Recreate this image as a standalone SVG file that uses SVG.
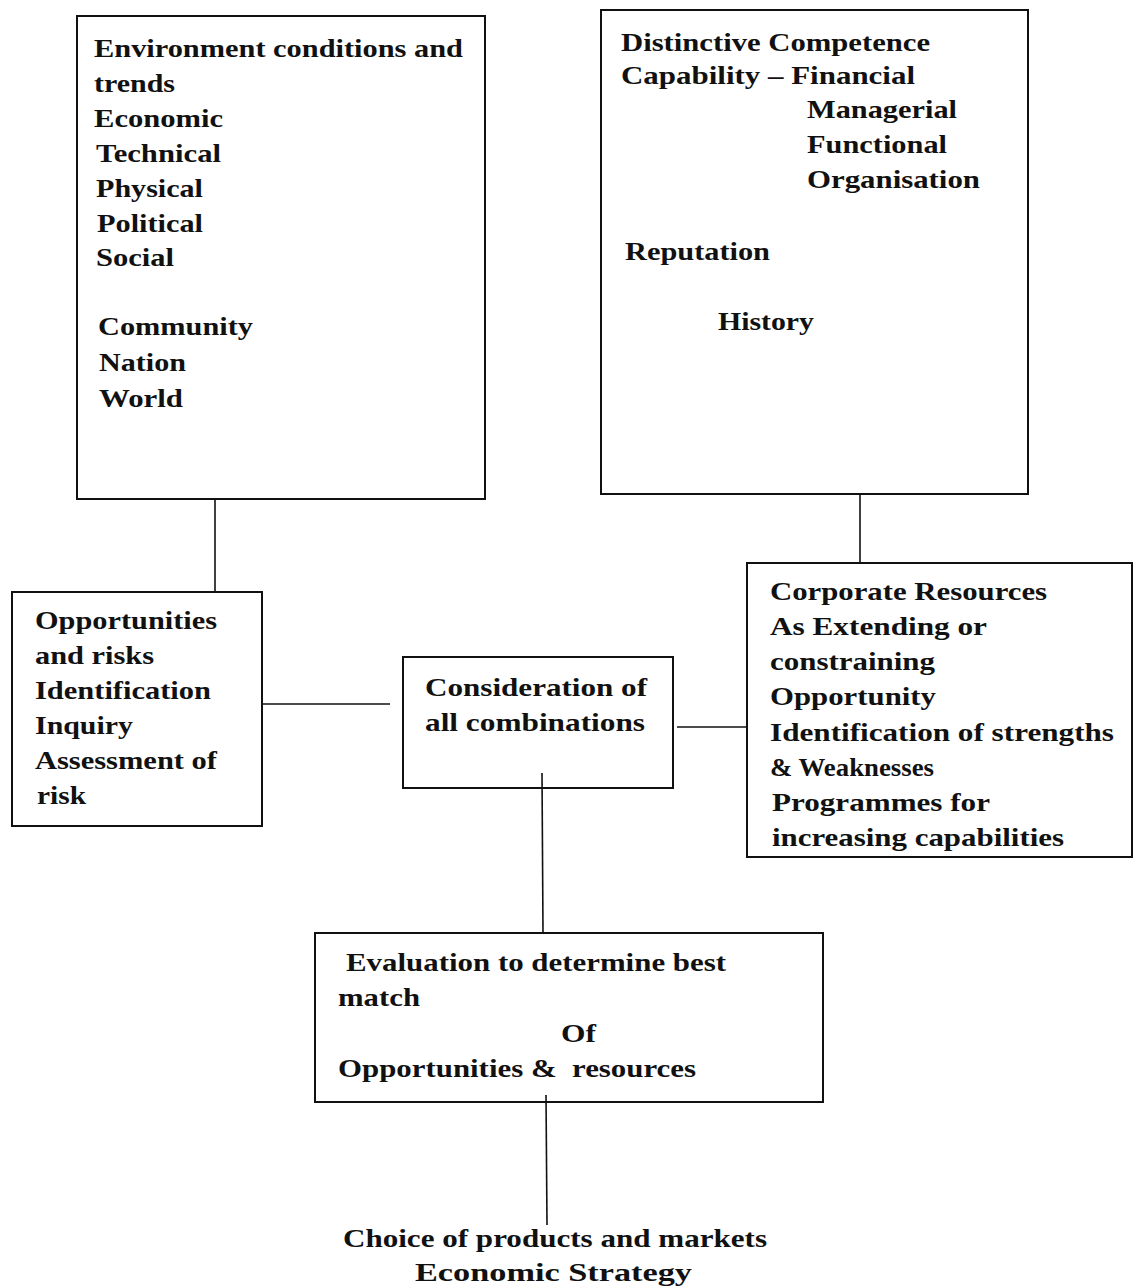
<svg xmlns="http://www.w3.org/2000/svg" width="1134" height="1288" viewBox="0 0 1134 1288">
<style>
.box{fill:none;stroke:#111;stroke-width:2}
.con{stroke:#111;stroke-width:1.6;fill:none}
text{font-family:"Liberation Serif","Times New Roman",serif;font-weight:bold;font-size:25px;fill:#111}
</style>
<rect width="1134" height="1288" fill="#fff"/>
<g id="connectors">
<line class="con" x1="215" y1="500" x2="215" y2="592"/>
<line class="con" x1="860" y1="494" x2="860" y2="563"/>
<line class="con" x1="262" y1="704" x2="390" y2="704"/>
<line class="con" x1="677" y1="727" x2="747" y2="727"/>
<line class="con" x1="542" y1="773" x2="543" y2="933"/>
<line class="con" x1="546" y1="1095" x2="547" y2="1225"/>
</g>
<g id="environment">
<rect class="box" x="77" y="16" width="408" height="483"/>
<text x="94" y="57" textLength="369" lengthAdjust="spacingAndGlyphs">Environment conditions and</text>
<text x="94" y="92" textLength="81" lengthAdjust="spacingAndGlyphs">trends</text>
<text x="94" y="127" textLength="129" lengthAdjust="spacingAndGlyphs">Economic</text>
<text x="96" y="162" textLength="125" lengthAdjust="spacingAndGlyphs">Technical</text>
<text x="96" y="197" textLength="107" lengthAdjust="spacingAndGlyphs">Physical</text>
<text x="97" y="232" textLength="106" lengthAdjust="spacingAndGlyphs">Political</text>
<text x="96" y="266" textLength="78" lengthAdjust="spacingAndGlyphs">Social</text>
<text x="98" y="335" textLength="155" lengthAdjust="spacingAndGlyphs">Community</text>
<text x="99" y="371" textLength="87" lengthAdjust="spacingAndGlyphs">Nation</text>
<text x="99" y="407" textLength="84" lengthAdjust="spacingAndGlyphs">World</text>
</g>
<g id="competence">
<rect class="box" x="601" y="10" width="427" height="484"/>
<text x="621" y="51" textLength="309" lengthAdjust="spacingAndGlyphs">Distinctive Competence</text>
<text x="621" y="84" textLength="294" lengthAdjust="spacingAndGlyphs">Capability – Financial</text>
<text x="807" y="118" textLength="150" lengthAdjust="spacingAndGlyphs">Managerial</text>
<text x="807" y="153" textLength="140" lengthAdjust="spacingAndGlyphs">Functional</text>
<text x="807" y="188" textLength="173" lengthAdjust="spacingAndGlyphs">Organisation</text>
<text x="625" y="260" textLength="145" lengthAdjust="spacingAndGlyphs">Reputation</text>
<text x="718" y="330" textLength="96" lengthAdjust="spacingAndGlyphs">History</text>
</g>
<g id="opportunities">
<rect class="box" x="12" y="592" width="250" height="234"/>
<text x="35" y="629" textLength="182" lengthAdjust="spacingAndGlyphs">Opportunities</text>
<text x="35" y="664" textLength="119" lengthAdjust="spacingAndGlyphs">and risks</text>
<text x="35" y="699" textLength="176" lengthAdjust="spacingAndGlyphs">Identification</text>
<text x="35" y="734" textLength="98" lengthAdjust="spacingAndGlyphs">Inquiry</text>
<text x="35" y="769" textLength="182" lengthAdjust="spacingAndGlyphs">Assessment of</text>
<text x="37" y="804" textLength="49" lengthAdjust="spacingAndGlyphs">risk</text>
</g>
<g id="consideration">
<rect class="box" x="403" y="657" width="270" height="131"/>
<text x="425" y="696" textLength="222" lengthAdjust="spacingAndGlyphs">Consideration of</text>
<text x="425" y="731" textLength="220" lengthAdjust="spacingAndGlyphs">all combinations</text>
</g>
<g id="resources">
<rect class="box" x="747" y="563" width="385" height="294"/>
<text x="770" y="600" textLength="277" lengthAdjust="spacingAndGlyphs">Corporate Resources</text>
<text x="770" y="635" textLength="217" lengthAdjust="spacingAndGlyphs">As Extending or</text>
<text x="770" y="670" textLength="165" lengthAdjust="spacingAndGlyphs">constraining</text>
<text x="770" y="705" textLength="166" lengthAdjust="spacingAndGlyphs">Opportunity</text>
<text x="770" y="741" textLength="344" lengthAdjust="spacingAndGlyphs">Identification of strengths</text>
<text x="770" y="776" textLength="164" lengthAdjust="spacingAndGlyphs">&amp; Weaknesses</text>
<text x="772" y="811" textLength="218" lengthAdjust="spacingAndGlyphs">Programmes for</text>
<text x="772" y="846" textLength="292" lengthAdjust="spacingAndGlyphs">increasing capabilities</text>
</g>
<g id="evaluation">
<rect class="box" x="315" y="933" width="508" height="169"/>
<text x="346" y="971" textLength="380" lengthAdjust="spacingAndGlyphs">Evaluation to determine best</text>
<text x="338" y="1006" textLength="82" lengthAdjust="spacingAndGlyphs">match</text>
<text x="561" y="1042" textLength="35" lengthAdjust="spacingAndGlyphs">Of</text>
<text x="338" y="1077" textLength="358" lengthAdjust="spacingAndGlyphs" xml:space="preserve">Opportunities &amp;  resources</text>
</g>
<g id="choice">
<text x="343" y="1247" textLength="424" lengthAdjust="spacingAndGlyphs">Choice of products and markets</text>
<text x="415" y="1281" textLength="277" lengthAdjust="spacingAndGlyphs">Economic Strategy</text>
</g>
</svg>
